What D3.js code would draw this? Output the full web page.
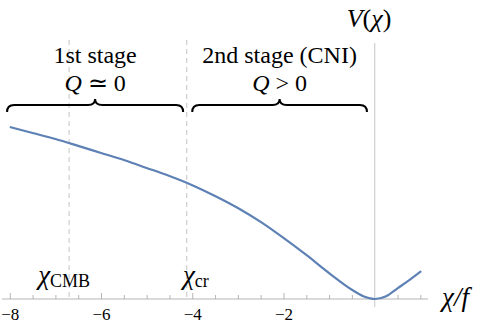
<!DOCTYPE html>
<html>
<head>
<meta charset="utf-8">
<script src="https://cdn.jsdelivr.net/npm/d3@7"></script>
<style>
  body { margin: 0; background: #fff; }
  svg { display: block; }
</style>
</head>
<body>
<svg id="chart" width="491" height="328"></svg>
<script>
// potential V(chi) (V(-8) normalised to 1)
const chiValues = [-8, -7.5, -7, -6.5, -6, -5.5, -5, -4.5, -4, -3.5, -3, -2.5, -2, -1.5, -1, -0.5, -0.25, 0, 0.25, 0.5, 0.75, 1.02];
const potential = [1.0, 0.965, 0.93, 0.89, 0.849, 0.808, 0.762, 0.715, 0.662, 0.599, 0.529, 0.448, 0.355, 0.256, 0.151, 0.054, 0.016, 0, 0.016, 0.062, 0.108, 0.162];

const majorTicks = [-8, -6, -4, -2];
const minorTicks = [-7.5, -7, -6.5, -5.5, -5, -4.5, -3.5, -3, -2.5, -1.5, -1, -0.5, 0.5, 1];

// special field values (dashed lines)
const markNames = ["CMB", "cr"];
const markValues = [-6.7, -4.12];

// stages, braces over chi ranges
const stageNames = ["1st stage", "2nd stage (CNI)"];
const stageConds = ["≃", ">"];
const stageFrom = [-8.06, -4.0];
const stageTo = [-4.2, -0.17];

const serif = "'Liberation Serif'";

const svg = d3.select("#chart");

const x = d3.scaleLinear().domain([-8, 0]).range([9.8, 374.7]);
const y = d3.scaleLinear().domain([0, 1]).range([299, 127]);

const axisGray = "#b5b5b5";

// dashed markers
markValues.forEach(v => {
  svg.append("line")
    .attr("x1", x(v)).attr("x2", x(v))
    .attr("y1", 40).attr("y2", y(0))
    .attr("stroke", "#c4c4c4")
    .attr("stroke-width", 1)
    .attr("stroke-dasharray", "5,4");
});

// vertical axis at chi = 0
svg.append("line")
  .attr("x1", x(0)).attr("x2", x(0))
  .attr("y1", 43).attr("y2", 307)
  .attr("stroke", "#cfcfcf")
  .attr("stroke-width", 1.2);

// horizontal axis
svg.append("line")
  .attr("x1", x(-8.17)).attr("x2", x(1.17))
  .attr("y1", y(0)).attr("y2", y(0))
  .attr("stroke", axisGray)
  .attr("stroke-width", 1);

const minorAxis = d3.axisBottom(x).tickValues(minorTicks).tickSize(-4).tickFormat("");
svg.append("g")
  .attr("transform", `translate(0,${y(0)})`)
  .call(minorAxis)
  .call(g => g.select(".domain").remove())
  .call(g => g.selectAll("line").attr("stroke", axisGray));

const majorAxis = d3.axisBottom(x).tickValues(majorTicks).tickSize(-6).tickPadding(9)
  .tickFormat(d => d3.format("d")(d).replace("-", "−"));
svg.append("g")
  .attr("transform", `translate(0,${y(0)})`)
  .call(majorAxis)
  .call(g => g.select(".domain").remove())
  .call(g => g.selectAll("line").attr("stroke", axisGray))
  .call(g => g.selectAll("text")
    .style("font-family", serif)
    .style("font-size", "17px")
    .attr("fill", "#000"));

// potential curve
const line = d3.line()
  .x((d, i) => x(chiValues[i]))
  .y(d => y(d))
  .curve(d3.curveMonotoneX);

svg.append("path")
  .attr("d", line(potential))
  .attr("fill", "none")
  .attr("stroke", "#5e81b5")
  .attr("stroke-width", 2.2);

// braces
function bracePath(x0, x1, yTip, yMid, yEnd) {
  const xm = (x0 + x1) / 2;
  const r = 7;
  return `M${x0},${yEnd} Q${x0},${yMid} ${x0 + r},${yMid} L${xm - r},${yMid} ` +
         `Q${xm},${yMid} ${xm},${yTip} Q${xm},${yMid} ${xm + r},${yMid} ` +
         `L${x1 - r},${yMid} Q${x1},${yMid} ${x1},${yEnd}`;
}

function label(xp, yp, size) {
  return svg.append("text")
    .attr("x", xp).attr("y", yp)
    .style("font-family", serif)
    .style("font-size", size + "px")
    .attr("fill", "#000");
}

stageNames.forEach((name, i) => {
  const x0 = x(stageFrom[i]), x1 = x(stageTo[i]);
  const xm = (x0 + x1) / 2;
  svg.append("path")
    .attr("d", bracePath(x0, x1, 99, 105, 112))
    .attr("fill", "none")
    .attr("stroke", "#000")
    .attr("stroke-width", 2);

  label(xm, 63, 24).attr("text-anchor", "middle").text(name);

  const t = label(xm, 91, 24).attr("text-anchor", "middle");
  t.append("tspan").style("font-style", "italic").text("Q");
  t.append("tspan").text(` ${stageConds[i]} 0`);
});

// chi labels at the markers
markNames.forEach((name, i) => {
  const t = label(x(markValues[i]) + (i === 0 ? 21 : 22), 284, 27).attr("text-anchor", "end");
  t.append("tspan").style("font-style", "italic").text("χ");
  t.append("tspan").style("font-size", "18px").attr("dy", 3).text(name);
});

// axis labels
const vLabel = label(x(0) - 28, 27, 26);
vLabel.append("tspan").style("font-style", "italic").text("V");
vLabel.append("tspan").text("(");
vLabel.append("tspan").style("font-style", "italic").text("χ");
vLabel.append("tspan").text(")");

label(442, 306, 27).style("font-style", "italic").text("χ/f");
</script>
</body>
</html>
